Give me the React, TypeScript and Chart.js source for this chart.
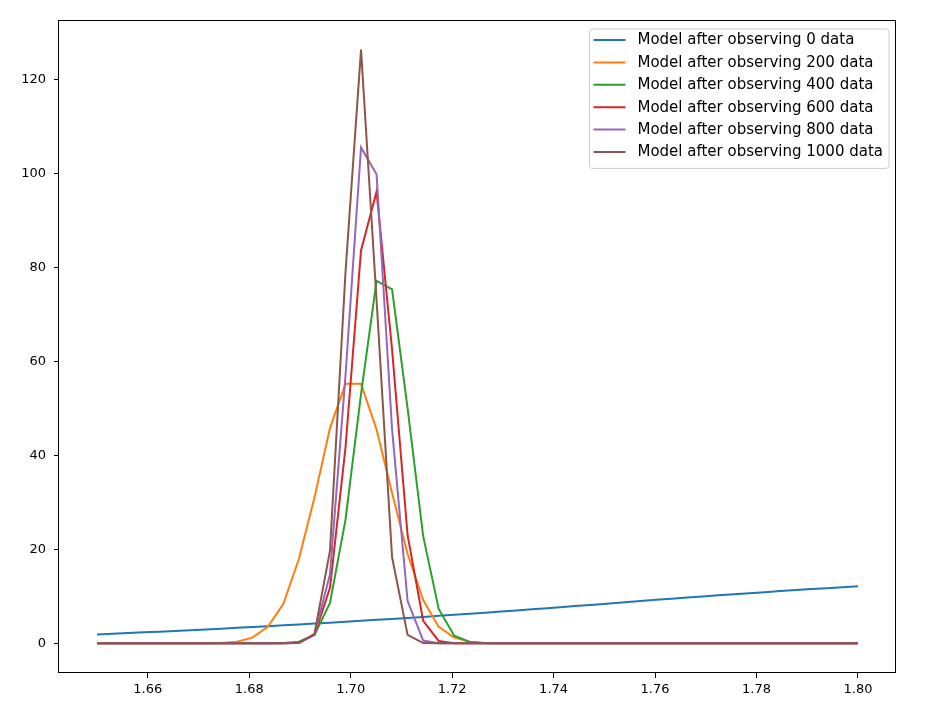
import React, { useEffect, useRef } from "react";
import { Chart, registerables } from "chart.js";

Chart.register(...registerables);

const xValues = [
  1.65, 1.65306, 1.65612, 1.65918, 1.66224, 1.66531, 1.66837, 1.67143, 1.67449, 1.67755,
  1.68061, 1.68367, 1.68673, 1.6898, 1.69286, 1.69592, 1.69898, 1.70204, 1.7051, 1.70816,
  1.71122, 1.71429, 1.71735, 1.72041, 1.72347, 1.72653, 1.72959, 1.73265, 1.73571, 1.73878,
  1.74184, 1.7449, 1.74796, 1.75102, 1.75408, 1.75714, 1.7602, 1.76327, 1.76633, 1.76939,
  1.77245, 1.77551, 1.77857, 1.78163, 1.78469, 1.78776, 1.79082, 1.79388, 1.79694, 1.8,
];

const model0 = [
  1.9, 2.04, 2.18, 2.33, 2.48, 2.64, 2.79, 2.96, 3.12, 3.29,
  3.47, 3.64, 3.82, 4.01, 4.2, 4.39, 4.58, 4.78, 4.99, 5.19,
  5.4, 5.62, 5.84, 6.06, 6.29, 6.52, 6.75, 6.99, 7.23, 7.47,
  7.72, 7.97, 8.23, 8.49, 8.74, 9.0, 9.25, 9.49, 9.73, 9.97,
  10.21, 10.44, 10.67, 10.89, 11.11, 11.32, 11.54, 11.74, 11.95, 12.15,
];

const model200 = [
  0, 0, 0, 0, 0, 0, 0, 0.02, 0.08, 0.35,
  1.2, 3.5, 8.4, 18.0, 31.0, 45.8, 55.2, 55.2, 45.5, 32.0,
  19.0, 9.2, 3.5, 1.2, 0.35, 0.08, 0.02, 0, 0, 0,
  0, 0, 0, 0, 0, 0, 0, 0, 0, 0,
  0, 0, 0, 0, 0, 0, 0, 0, 0, 0,
];

const model400 = [
  0, 0, 0, 0, 0, 0, 0, 0, 0, 0,
  0, 0, 0.05, 0.35, 1.8, 8.6, 26.3, 53.0, 77.1, 75.3,
  50.0, 22.8, 7.3, 1.6, 0.3, 0.03, 0, 0, 0, 0,
  0, 0, 0, 0, 0, 0, 0, 0, 0, 0,
  0, 0, 0, 0, 0, 0, 0, 0, 0, 0,
];

const model600 = [
  0, 0, 0, 0, 0, 0, 0, 0, 0, 0,
  0, 0, 0.01, 0.1, 1.8, 11.8, 41.7, 83.6, 96.1, 62.5,
  23.0, 4.8, 0.5, 0.03, 0, 0, 0, 0, 0, 0,
  0, 0, 0, 0, 0, 0, 0, 0, 0, 0,
  0, 0, 0, 0, 0, 0, 0, 0, 0, 0,
];

const model800 = [
  0, 0, 0, 0, 0, 0, 0, 0, 0, 0,
  0, 0, 0, 0.1, 1.9, 14.7, 57.0, 105.5, 99.8, 45.5,
  9.0, 0.6, 0.02, 0, 0, 0, 0, 0, 0, 0,
  0, 0, 0, 0, 0, 0, 0, 0, 0, 0,
  0, 0, 0, 0, 0, 0, 0, 0, 0, 0,
];

const model1000 = [
  0, 0, 0, 0, 0, 0, 0, 0, 0, 0,
  0, 0, 0, 0.05, 2.0, 19.7, 79.0, 126.3, 73.0, 18.3,
  1.8, 0.05, 0, 0, 0, 0, 0, 0, 0, 0,
  0, 0, 0, 0, 0, 0, 0, 0, 0, 0,
  0, 0, 0, 0, 0, 0, 0, 0, 0, 0,
];

const seriesLabels = [
  "Model after observing 0 data",
  "Model after observing 200 data",
  "Model after observing 400 data",
  "Model after observing 600 data",
  "Model after observing 800 data",
  "Model after observing 1000 data",
];

const seriesColors = ["#1f77b4", "#ff7f0e", "#2ca02c", "#d62728", "#9467bd", "#8c564b"];

const xTicks = [1.66, 1.68, 1.7, 1.72, 1.74, 1.76, 1.78, 1.8];
const xTickLabels = ["1.66", "1.68", "1.70", "1.72", "1.74", "1.76", "1.78", "1.80"];
const yTicks = [0, 20, 40, 60, 80, 100, 120];
const yTickLabels = ["0", "20", "40", "60", "80", "100", "120"];

const FONT = "'DejaVu Sans', sans-serif";

export default function App() {
  const canvasRef = useRef<HTMLCanvasElement>(null);

  useEffect(() => {
    const canvas = canvasRef.current;
    if (!canvas) return;
    const seriesValues = [model0, model200, model400, model600, model800, model1000];
    const allY = seriesValues.flat();
    const yMin = Math.min(...allY);
    const yMax = Math.max(...allY);
    const yPad = (yMax - yMin) * 0.05;
    const xMin = Math.min(...xValues);
    const xMax = Math.max(...xValues);
    const xPad = (xMax - xMin) * 0.05;

    const framePlugin = {
      id: "frame",
      afterDraw(chart: any) {
        const { ctx, chartArea } = chart;
        const l = Math.round(chartArea.left) - 0.5;
        const t = Math.round(chartArea.top) + 0.5;
        const r = Math.round(chartArea.right) - 0.5;
        const b = Math.round(chartArea.bottom) - 0.5;
        ctx.save();
        ctx.strokeStyle = "#000";
        ctx.lineWidth = 1;
        ctx.strokeRect(l, t, r - l, b - t);
        ctx.restore();
      },
    };

    const legendPlugin = {
      id: "mplLegend",
      afterDraw(chart: any) {
        const { ctx, chartArea } = chart;
        ctx.save();
        ctx.font = `15px ${FONT}`;
        const maxW = Math.max(...seriesLabels.map((s) => ctx.measureText(s).width));
        const rowH = 22.4;
        const w = 48 + maxW + 6;
        const h = rowH * seriesLabels.length + 5;
        const x0 = chartArea.right - 7 - w;
        const y0 = chartArea.top + 9;
        const rad = 3;
        ctx.beginPath();
        ctx.moveTo(x0 + rad, y0);
        ctx.lineTo(x0 + w - rad, y0);
        ctx.arcTo(x0 + w, y0, x0 + w, y0 + rad, rad);
        ctx.lineTo(x0 + w, y0 + h - rad);
        ctx.arcTo(x0 + w, y0 + h, x0 + w - rad, y0 + h, rad);
        ctx.lineTo(x0 + rad, y0 + h);
        ctx.arcTo(x0, y0 + h, x0, y0 + h - rad, rad);
        ctx.lineTo(x0, y0 + rad);
        ctx.arcTo(x0, y0, x0 + rad, y0, rad);
        ctx.closePath();
        ctx.fillStyle = "rgba(255,255,255,0.8)";
        ctx.fill();
        ctx.strokeStyle = "#cccccc";
        ctx.lineWidth = 1;
        ctx.stroke();
        seriesLabels.forEach((label, i) => {
          const cy = y0 + 11 + i * rowH;
          ctx.beginPath();
          ctx.moveTo(x0 + 4, cy);
          ctx.lineTo(x0 + 36, cy);
          ctx.strokeStyle = seriesColors[i];
          ctx.lineWidth = 2;
          ctx.stroke();
          ctx.fillStyle = "#000";
          ctx.textBaseline = "middle";
          ctx.textAlign = "left";
          ctx.fillText(label, x0 + 48, cy + 0.5);
        });
        ctx.restore();
      },
    };

    const chart = new Chart(canvas, {
      type: "line",
      data: {
        datasets: seriesValues.map((vals, i) => ({
          label: seriesLabels[i],
          data: vals.map((v, j) => ({ x: xValues[j], y: v })),
          borderColor: seriesColors[i],
          backgroundColor: seriesColors[i],
          borderWidth: 2,
          pointRadius: 0,
          tension: 0,
          fill: false,
          order: seriesValues.length - i,
        })),
      },
      options: {
        animation: false,
        responsive: true,
        maintainAspectRatio: false,
        layout: { padding: { left: 0, right: 39, top: 20, bottom: 0 } },
        plugins: {
          legend: { display: false },
          tooltip: { enabled: false },
        },
        scales: {
          x: {
            type: "linear",
            min: xMin - xPad,
            max: xMax + xPad,
            afterBuildTicks(scale: any) {
              scale.ticks = xTicks.map((v) => ({ value: v }));
            },
            afterFit(scale: any) {
              scale.height = 34;
            },
            ticks: {
              autoSkip: false,
              maxRotation: 0,
              padding: 4,
              color: "#000",
              font: { family: FONT, size: 13 },
              callback: (_v: any, idx: number) => xTickLabels[idx],
            },
            grid: {
              display: true,
              drawOnChartArea: false,
              drawTicks: true,
              tickLength: 5,
              tickColor: "#000",
            },
            border: { display: false },
          },
          y: {
            type: "linear",
            min: yMin - yPad,
            max: yMax + yPad,
            afterBuildTicks(scale: any) {
              scale.ticks = yTicks.map((v) => ({ value: v }));
            },
            afterFit(scale: any) {
              scale.width = 59;
            },
            ticks: {
              autoSkip: false,
              padding: 8,
              color: "#000",
              font: { family: FONT, size: 13 },
              callback: (_v: any, idx: number) => yTickLabels[idx],
            },
            grid: {
              display: true,
              drawOnChartArea: false,
              drawTicks: true,
              tickLength: 5,
              tickColor: "#000",
            },
            border: { display: false },
          },
        },
      },
      plugins: [framePlugin, legendPlugin],
    } as any);

    return () => chart.destroy();
  }, []);

  return (
    <div
      style={{
        position: "absolute",
        left: 0,
        top: 0,
        width: 935,
        height: 707,
        background: "#fff",
      }}
    >
      <canvas ref={canvasRef} />
    </div>
  );
}
